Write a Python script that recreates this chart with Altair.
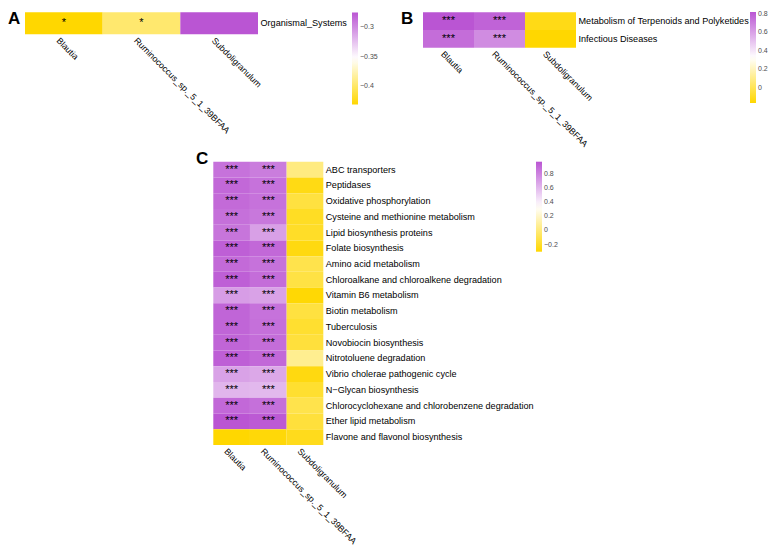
import altair as alt
import pandas as pd

FONT = "Liberation Sans"
GOLD = "#FFD700"
ORCHID = "#BA55D3"
W, H = 760, 539

species = ["Blautia", "Ruminococcus_sp._5_1_39BFAA", "Subdoligranulum"]

# ---- Panel A ----
a_rows = ["Organismal_Systems"]
a_blautia = [-0.4306]
a_rumino = [-0.397]
a_subdo = [-0.2746]
a_sig_blautia = ["*"]
a_sig_rumino = ["*"]
a_sig_subdo = [""]
a_legend_values = [-0.4, -0.35, -0.3]

# ---- Panel B ----
b_rows = ["Metabolism of Terpenoids and Polyketides", "Infectious Diseases"]
b_blautia = [0.82, 0.75]
b_rumino = [0.78, 0.66]
b_subdo = [-0.12, -0.162]
b_sig_blautia = ["***", "***"]
b_sig_rumino = ["***", "***"]
b_sig_subdo = ["", ""]
b_legend_values = [0, 0.2, 0.4, 0.6, 0.8]

# ---- Panel C ----
c_rows = [
    "ABC transporters",
    "Peptidases",
    "Oxidative phosphorylation",
    "Cysteine and methionine metabolism",
    "Lipid biosynthesis proteins",
    "Folate biosynthesis",
    "Amino acid metabolism",
    "Chloroalkane and chloroalkene degradation",
    "Vitamin B6 metabolism",
    "Biotin metabolism",
    "Tuberculosis",
    "Novobiocin biosynthesis",
    "Nitrotoluene degradation",
    "Vibrio cholerae pathogenic cycle",
    "N\u2212Glycan biosynthesis",
    "Chlorocyclohexane and chlorobenzene degradation",
    "Ether lipid metabolism",
    "Flavone and flavonol biosynthesis",
]
c_blautia = [0.86, 0.90, 0.89, 0.87, 0.85, 0.93, 0.89, 0.93, 0.70, 0.91,
             0.91, 0.91, 0.93, 0.68, 0.61, 0.90, 0.969, -0.299]
c_rumino = [0.82, 0.86, 0.86, 0.84, 0.69, 0.90, 0.86, 0.88, 0.68, 0.86,
            0.87, 0.88, 0.90, 0.66, 0.60, 0.87, 0.95, -0.28]
c_subdo = [0.02, -0.25, -0.14, -0.21, -0.20, -0.26, -0.11, -0.13, -0.29, -0.14,
           -0.18, -0.15, 0.06, -0.26, -0.18, -0.11, -0.15, -0.23]
c_sig_blautia = ["***"] * 17 + [""]
c_sig_rumino = ["***"] * 17 + [""]
c_sig_subdo = [""] * 18
c_legend_values = [-0.2, 0, 0.2, 0.4, 0.6, 0.8]


def long_table(rows, blautia, rumino, subdo, sb, sr, ss):
    recs = []
    for i, r in enumerate(rows):
        for sp, vals, sig in zip(species, (blautia, rumino, subdo), (sb, sr, ss)):
            recs.append({"row": r, "col": sp, "value": vals[i], "sig": sig[i]})
    return pd.DataFrame(recs)


def panel(df, rows, xr, yr, lvals, lx, ly, llen, star_size):
    cmin = float(df["value"].min())
    cmax = float(df["value"].max())
    mid = (cmin + cmax) / 2
    x = alt.X(
        "col:N", sort=species, title=None,
        scale=alt.Scale(domain=species, range=xr, paddingInner=0, paddingOuter=0),
        axis=alt.Axis(orient="bottom", offset=yr[1] - H, labelAngle=45, labelAlign="left",
                      labelBaseline="top", labelPadding=1.5, labelOffset=-3, ticks=False,
                      tickSize=0, domain=False, grid=False, labelFont=FONT,
                      labelFontSize=8.8, labelColor="#000000", labelLimit=400),
    )
    y = alt.Y(
        "row:N", sort=rows, title=None,
        scale=alt.Scale(domain=rows, range=yr, paddingInner=0, paddingOuter=0),
        axis=alt.Axis(orient="right", offset=xr[1] - W, labelAlign="left",
                      labelBaseline="middle", labelPadding=2, ticks=False, tickSize=0,
                      domain=False, grid=False, labelFont=FONT, labelFontSize=9.1,
                      labelColor="#000000", labelLimit=400),
    )
    color = alt.Color(
        "value:Q",
        scale=alt.Scale(domain=[cmin, mid, cmax], range=[GOLD, "#FFFFFF", ORCHID],
                        interpolate="rgb"),
        legend=alt.Legend(orient="none", legendX=lx, legendY=ly, direction="vertical",
                          gradientLength=llen, gradientThickness=6, values=lvals,
                          title=None, labelFont=FONT, labelFontSize=7,
                          labelColor="#4D4D4D", labelOffset=2, padding=0, format=".2~f"),
    )
    rect = alt.Chart().mark_rect().encode(x=x, y=y, color=color)
    text = alt.Chart().mark_text(font=FONT, fontSize=star_size, baseline="middle",
                                 color="#000000").encode(x=x, y=y, text="sig:N")
    return alt.layer(rect, text, data=df)


def letter(ch, x, y):
    return alt.Chart(pd.DataFrame({"t": [ch]})).mark_text(
        font=FONT, fontSize=17, fontWeight="bold", align="left",
        baseline="alphabetic", color="#000000",
    ).encode(x=alt.value(x), y=alt.value(y), text="t:N")


dfa = long_table(a_rows, a_blautia, a_rumino, a_subdo, a_sig_blautia, a_sig_rumino, a_sig_subdo)
dfb = long_table(b_rows, b_blautia, b_rumino, b_subdo, b_sig_blautia, b_sig_rumino, b_sig_subdo)
dfc = long_table(c_rows, c_blautia, c_rumino, c_subdo, c_sig_blautia, c_sig_rumino, c_sig_subdo)

pa = panel(dfa, a_rows, [17, 250], [4.3, 26.3], a_legend_values, 344, 4.5, 92, 11)
pb = panel(dfb, b_rows, [415, 568], [4.3, 39.7], b_legend_values, 742, 4, 91, 11)
pc = panel(dfc, c_rows, [205.3, 315.3], [153.7, 437], c_legend_values, 528, 153.7, 90, 11)

chart = alt.layer(
    pa, pb, pc,
    letter("A", 0, 15.5),
    letter("B", 393, 15.5),
    letter("C", 188, 155.5),
).resolve_scale(
    x="independent", y="independent", color="independent"
).resolve_axis(
    x="independent", y="independent"
).resolve_legend(
    color="independent"
).properties(
    width=W, height=H, padding=0,
    autosize=alt.AutoSizeParams(type="none"),
).configure_view(strokeWidth=0)

chart.save("out.html", embed_options={"renderer": "svg", "actions": False})
